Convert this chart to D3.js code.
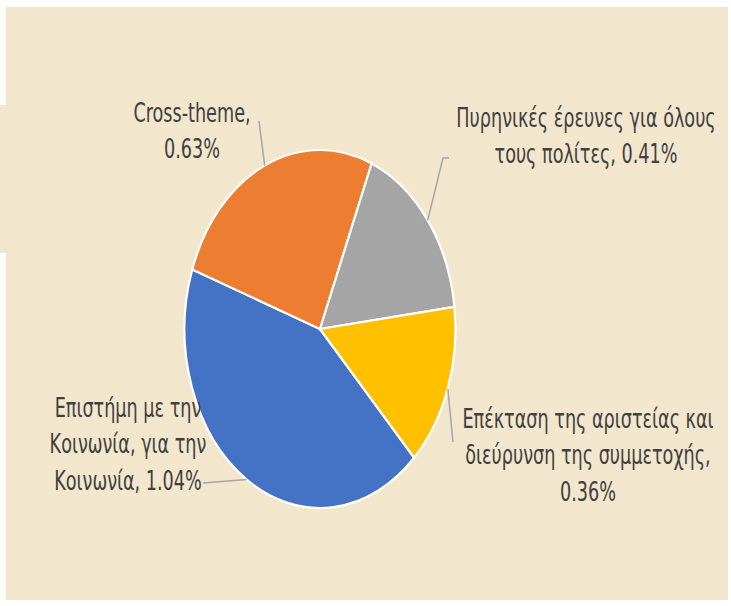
<!DOCTYPE html>
<html>
<head>
<meta charset="utf-8">
<script src="https://cdn.jsdelivr.net/npm/d3@7"></script>
<style>
  body { margin: 0; background: #ffffff; }
  svg { display: block; }
</style>
</head>
<body>
<script>
// slice names and shares (%)
var categories = [
    ["Επιστήμη με την", "Κοινωνία, για την", "Κοινωνία"],
    ["Cross-theme"],
    ["Πυρηνικές έρευνες για όλους", "τους πολίτες"],
    ["Επέκταση της αριστείας και", "διεύρυνση της συμμετοχής"]
];
var values = [1.04, 0.63, 0.41, 0.36];
var valueLabels = ["1.04%", "0.63%", "0.41%", "0.36%"];
var colors = ["#4472C4", "#ED7D31", "#A5A5A5", "#FFC000"];

// label lines as Excel wraps them
function labelLines(i) {
    var c = categories[i], v = valueLabels[i];
    if (i == 0) return [c[0], c[1], c[2] + ", " + v];
    if (i == 1) return [c[0] + ",", v];
    if (i == 2) return [c[0], c[1] + ", " + v];
    return [c[0], c[1] + ",", v];
}

// where each label sits (centre x, first baseline) and the leader's far end
var labelLayout = [
    { x: 128, y: 417, leader: [[203, 483]] },
    { x: 192, y: 122, leader: [[259, 121]] },
    { x: 586, y: 127, leader: [[443, 158], [449, 158]] },
    { x: 588, y: 428, leader: [[453, 442]] }
];

var width = 731, height = 606;
var svg = d3.select("body").append("svg").attr("width", width).attr("height", height);

// beige plate (the screenshot shows a little white around it)
svg.append("rect").attr("x", 6).attr("y", 7).attr("width", 722).attr("height", 593).attr("fill", "#F2E6CD");
svg.append("rect").attr("x", 0).attr("y", 105).attr("width", 8).attr("height", 148).attr("fill", "#F2E6CD");

var cx = 320, cy = 329, rx = 135.5, ry = 179;
var r = 100;
var sy = ry / rx;

var pie = d3.pie().sort(null).value(function(d) { return d; })
    .startAngle(136 * Math.PI / 180).endAngle((136 + 360) * Math.PI / 180);
var arcs = pie(values);
var arc = d3.arc().innerRadius(0).outerRadius(r);

var g = svg.append("g")
    .attr("transform", "translate(" + cx + "," + cy + ") scale(" + (rx / r) + "," + (ry / r) + ")");

g.selectAll("path")
    .data(arcs)
    .enter()
    .append("path")
    .attr("d", arc)
    .attr("fill", function(d, i) { return colors[i]; })
    .attr("stroke", "#ffffff")
    .attr("stroke-width", 2.2)
    .attr("vector-effect", "non-scaling-stroke");

// leader lines from the middle of each slice's rim
arcs.forEach(function(d, i) {
    var a = (d.startAngle + d.endAngle) / 2;
    var pts = [[cx + Math.sin(a) * rx, cy - Math.cos(a) * ry]].concat(labelLayout[i].leader);
    svg.append("path")
        .attr("d", d3.line()(pts))
        .attr("fill", "none")
        .attr("stroke", "#A6A6A6")
        .attr("stroke-width", 1.5);
});

// labels, stretched vertically like the picture
var lineGap = 36.5;
arcs.forEach(function(d, i) {
    var lay = labelLayout[i];
    var t = svg.append("g")
        .attr("transform", "translate(" + lay.x + "," + lay.y + ") scale(1," + sy + ")")
        .append("text")
        .attr("text-anchor", "middle")
        .attr("fill", "#404040")
        .style("font-family", "'Liberation Sans Narrow', 'Arial Narrow', 'DejaVu Sans Condensed', sans-serif")
        .style("font-size", "19.6px");
    labelLines(i).forEach(function(line, k) {
        t.append("tspan").attr("x", 0).attr("y", k * lineGap / sy).text(line);
    });
});
</script>
</body>
</html>
